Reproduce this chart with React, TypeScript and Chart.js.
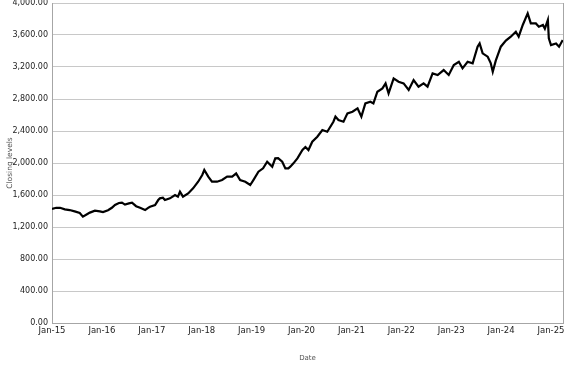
import React, { useEffect, useRef } from "react";
import { Chart, registerables } from "chart.js";

Chart.register(...registerables);

const dates: string[] = [
  "2015-01-01", "2015-02-01", "2015-03-01", "2015-04-05", "2015-05-10", "2015-06-16", "2015-07-23", "2015-08-15",
  "2015-09-14", "2015-10-05", "2015-11-11", "2015-12-17", "2016-01-09", "2016-02-15", "2016-03-14", "2016-04-06",
  "2016-05-05", "2016-05-27", "2016-06-18", "2016-07-17", "2016-08-09", "2016-09-08", "2016-10-07", "2016-11-13",
  "2016-12-05", "2016-12-19", "2017-01-25", "2017-02-17", "2017-03-01", "2017-03-23", "2017-04-07", "2017-05-14",
  "2017-06-20", "2017-07-11", "2017-07-26", "2017-08-17", "2017-09-24", "2017-10-30", "2017-12-06", "2018-01-05",
  "2018-01-20", "2018-02-18", "2018-03-17", "2018-04-23", "2018-05-30", "2018-07-06", "2018-08-12", "2018-09-10",
  "2018-10-09", "2018-11-16", "2018-12-22", "2019-01-14", "2019-02-20", "2019-03-26", "2019-04-25", "2019-06-01",
  "2019-06-23", "2019-07-14", "2019-08-13", "2019-09-05", "2019-09-27", "2019-10-11", "2019-11-03", "2019-12-02",
  "2020-01-08", "2020-01-30", "2020-02-21", "2020-03-20", "2020-04-26", "2020-06-02", "2020-07-08", "2020-08-22",
  "2020-09-06", "2020-09-28", "2020-11-04", "2020-12-03", "2021-01-09", "2021-02-15", "2021-03-15", "2021-04-13",
  "2021-05-20", "2021-06-11", "2021-07-10", "2021-08-16", "2021-09-08", "2021-09-30", "2021-11-06", "2021-12-12",
  "2022-01-18", "2022-02-24", "2022-04-01", "2022-05-07", "2022-06-13", "2022-07-12", "2022-08-18", "2022-09-24",
  "2022-11-07", "2022-12-14", "2023-01-20", "2023-02-26", "2023-03-25", "2023-05-01", "2023-06-07", "2023-07-13",
  "2023-07-28", "2023-08-19", "2023-09-25", "2023-10-17", "2023-11-01", "2023-11-23", "2023-12-30", "2024-02-05",
  "2024-03-12", "2024-04-18", "2024-05-09", "2024-06-08", "2024-07-14", "2024-08-06", "2024-09-12", "2024-10-04",
  "2024-11-03", "2024-11-17", "2024-12-09", "2024-12-16", "2025-01-01", "2025-02-07", "2025-03-01", "2025-03-28",
];

const closingLevels: number[] = [
  1425, 1440, 1440, 1420, 1412, 1395, 1375, 1330,
  1360, 1380, 1404, 1395, 1387, 1410, 1440, 1475,
  1500, 1504, 1480, 1495, 1504, 1460, 1440, 1412,
  1440, 1454, 1475, 1537, 1558, 1566, 1537, 1558,
  1600, 1580, 1641, 1579, 1620, 1683, 1766, 1850,
  1912, 1829, 1766, 1766, 1787, 1829, 1829, 1870,
  1787, 1766, 1725, 1787, 1891, 1933, 2016, 1954,
  2058, 2060, 2016, 1933, 1933, 1954, 1996, 2058,
  2162, 2200, 2162, 2266, 2329, 2412, 2391, 2516,
  2580, 2537, 2516, 2620, 2641, 2683, 2579, 2745,
  2766, 2745, 2891, 2933, 2995, 2870, 3058, 3016,
  2995, 2912, 3037, 2954, 2995, 2954, 3120, 3100,
  3162, 3100, 3225, 3266, 3183, 3266, 3245, 3454,
  3495, 3370, 3329, 3250, 3141, 3280, 3454, 3530,
  3579, 3641, 3579, 3725, 3870, 3745, 3745, 3704,
  3725, 3679, 3787, 3558, 3475, 3495, 3454, 3537,
];

const xTickYears: number[] = [2015, 2016, 2017, 2018, 2019, 2020, 2021, 2022, 2023, 2024, 2025];
const xTickLabels: string[] = ["Jan-15", "Jan-16", "Jan-17", "Jan-18", "Jan-19", "Jan-20", "Jan-21", "Jan-22", "Jan-23", "Jan-24", "Jan-25"];
const yMin = 0;
const yMax = 4000;
const yStep = 400;

function toYear(d: string): number {
  const [y, m, dd] = d.split("-").map(Number);
  const start = Date.UTC(y, 0, 1);
  const end = Date.UTC(y + 1, 0, 1);
  return y + (Date.UTC(y, m - 1, dd) - start) / (end - start);
}

const FONT = "'DejaVu Sans', Verdana, sans-serif";

const frame = {
  id: "frame",
  afterDraw(chart: any) {
    const { ctx, chartArea } = chart;
    ctx.save();
    ctx.strokeStyle = "#a6a6a6";
    ctx.lineWidth = 1;
    ctx.beginPath();
    ctx.moveTo(Math.round(chartArea.right) + 0.5, chartArea.top);
    ctx.lineTo(Math.round(chartArea.right) + 0.5, chartArea.bottom);
    ctx.stroke();
    ctx.restore();
  },
};

export default function App() {
  const ref = useRef<HTMLCanvasElement | null>(null);

  useEffect(() => {
    document.body.style.margin = "0";
    const canvas = ref.current;
    if (!canvas) return;
    const points = dates.map((d, i) => ({ x: toYear(d), y: closingLevels[i] }));
    const chart = new Chart(canvas, {
      type: "line",
      data: {
        datasets: [
          {
            data: points,
            borderColor: "#000000",
            borderWidth: 2.2,
            pointRadius: 0,
            tension: 0,
            fill: false,
          },
        ],
      },
      options: {
        animation: false,
        responsive: false,
        layout: { padding: { top: 3, right: 14, left: 0, bottom: 0 } },
        plugins: { legend: { display: false }, tooltip: { enabled: false } },
        scales: {
          x: {
            type: "linear",
            min: toYear(dates[0]),
            max: toYear(dates[dates.length - 1]) + 0.005,
            grid: { display: false, drawTicks: false },
            border: { display: true, color: "#a6a6a6", width: 1 },
            afterBuildTicks: (scale: any) => {
              scale.ticks = xTickYears.map((v) => ({ value: v }));
            },
            afterFit: (scale: any) => {
              scale.height = 367 - 323;
              scale.paddingLeft = 0;
              scale.paddingRight = 0;
            },
            ticks: {
              autoSkip: false,
              maxRotation: 0,
              padding: 3,
              color: "#222",
              font: { family: FONT, size: 8.5 },
              callback: (v: any) => {
                const i = xTickYears.indexOf(Math.round(Number(v)));
                return i >= 0 ? xTickLabels[i] : "";
              },
            },
            title: {
              display: true,
              text: "Date",
              color: "#555",
              font: { family: FONT, size: 7 },
              padding: { top: 0, bottom: 5 },
            },
          },
          y: {
            min: yMin,
            max: yMax,
            grid: { color: "#c8c8c8", drawTicks: false, lineWidth: 1 },
            border: { display: true, color: "#a6a6a6", width: 1 },
            afterFit: (scale: any) => {
              scale.width = 52;
              scale.paddingTop = 0;
              scale.paddingBottom = 0;
            },
            ticks: {
              stepSize: yStep,
              padding: 4,
              color: "#222",
              font: { family: FONT, size: 8 },
              callback: (v: any) =>
                Number(v).toLocaleString("en-US", { minimumFractionDigits: 2, maximumFractionDigits: 2 }),
            },
            title: {
              display: true,
              text: "Closing levels",
              color: "#555",
              font: { family: FONT, size: 7.5 },
              padding: { top: 6, bottom: 0 },
            },
          },
        },
      },
      plugins: [frame],
    });
    return () => chart.destroy();
  }, []);

  return <canvas ref={ref} width={577} height={367} style={{ display: "block" }} />;
}
